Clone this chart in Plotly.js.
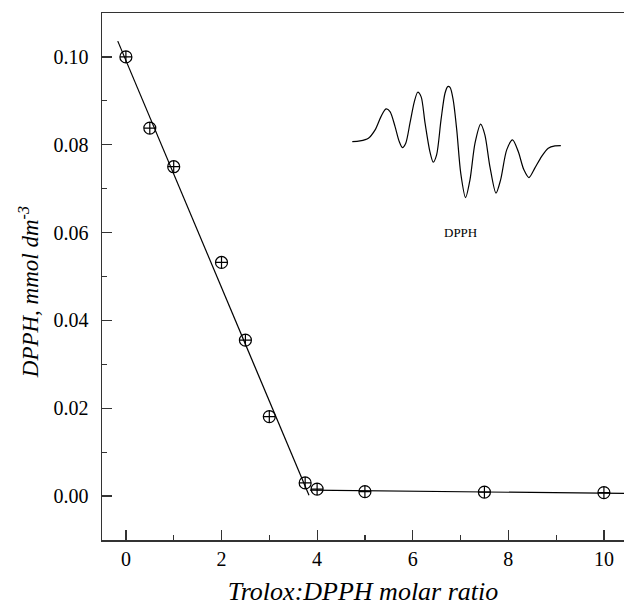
<!DOCTYPE html>
<html>
<head>
<meta charset="utf-8">
<script src="https://cdn.plot.ly/plotly-3.0.1.min.js"></script>
<style>html,body{margin:0;padding:0;background:#fff;}#chart{width:624px;height:607px;}</style>
</head>
<body>
<div id="chart"></div>
<script>
// Measured data: DPPH concentration vs Trolox:DPPH molar ratio
var ratio = [0, 0.5, 1, 2, 2.5, 3, 3.75, 4, 5, 7.5, 10];
var dpph = [0.100, 0.0838, 0.075, 0.0532, 0.0355, 0.0181, 0.0030, 0.0016, 0.0010, 0.0009, 0.0008];

// Fitted straight lines
var fit1X = [-0.17, 3.83];
var fit1Y = [0.1036, 0.0002];
var fit2X = [3.85, 10.45];
var fit2Y = [0.00135, 0.0006];

// Inset ESR spectrum (arbitrary units)
var esrField = [0.1, 3.8, 7.8, 11.0, 13.8, 16.2, 18.1, 20.5, 22.5, 24.0, 25.6, 27.6, 29.7, 31.3, 32.9, 34.8, 37.1, 38.7, 40.3, 42.4, 44.3, 45.6, 46.7, 48.2, 49.9, 51.8, 54.1, 56.2, 58.6, 61.3, 63.3, 65.7, 68.6, 70.8, 73.7, 76.5, 79.2, 81.9, 84.3, 87.1, 90.3, 93.5, 96.7, 99.5];
var esrSignal = [0.3, 1, 3.7, 12, 25.3, 33, 30.3, 15.3, 0.3, -5.7, -1.3, 18.7, 40.3, 49.7, 45.3, 18.7, -9.7, -20.3, -13, 22, 48.7, 55.3, 54.5, 42, 12, -31.3, -55.7, -38, -1.3, 17.7, 7, -24.7, -51.3, -38, -8, 2, -9.7, -28, -35.7, -26.3, -14.7, -6.3, -4, -3.7];

var serif = "Liberation Serif, Times New Roman, serif";

var traces = [
  {x: fit1X, y: fit1Y, mode: 'lines', line: {color: '#000', width: 1.2}, hoverinfo: 'skip'},
  {x: fit2X, y: fit2Y, mode: 'lines', line: {color: '#000', width: 1.2}, hoverinfo: 'skip'},
  {x: ratio, y: dpph, mode: 'markers',
   marker: {symbol: 'circle-cross-open', size: 12, color: '#000', line: {color: '#000', width: 1.2}}},
  {x: esrField, y: esrSignal, xaxis: 'x2', yaxis: 'y2', mode: 'lines',
   line: {color: '#000', width: 1.2, shape: 'spline', smoothing: 0.8}}
];

var layout = {
  width: 624, height: 607,
  margin: {l: 102, r: 0, t: 13, b: 67},
  paper_bgcolor: '#fff', plot_bgcolor: '#fff',
  showlegend: false,
  font: {family: serif, color: '#000', size: 20},
  xaxis: {
    range: [-0.5, 10.42], showgrid: false, zeroline: false,
    showline: true, linecolor: '#333', linewidth: 1.5, mirror: true,
    ticks: 'inside', ticklen: 10, tickwidth: 1.2, tickcolor: '#333',
    dtick: 2, tick0: 0,
    minor: {dtick: 1, tick0: 0, ticks: 'inside', ticklen: 5, tickwidth: 1.2, tickcolor: '#333', showgrid: false},
    tickfont: {family: serif, size: 20, color: '#000'},
    title: {text: '<i>Trolox:DPPH molar ratio</i>', font: {family: serif, size: 26, color: '#000'}, standoff: 13}
  },
  yaxis: {
    range: [-0.01, 0.11], showgrid: false, zeroline: false,
    showline: true, linecolor: '#333', linewidth: 1.5,
    ticks: 'inside', ticklen: 10, tickwidth: 1.2, tickcolor: '#333',
    dtick: 0.02, tick0: 0, tickformat: '.2f', ticklabelstandoff: 8,
    minor: {dtick: 0.01, tick0: 0, ticks: 'inside', ticklen: 5, tickwidth: 1.2, tickcolor: '#333', showgrid: false},
    tickfont: {family: serif, size: 20, color: '#000'}
  },
  xaxis2: {domain: [0.479, 0.881], range: [0, 100], anchor: 'y2', visible: false},
  yaxis2: {domain: [0.636, 0.873], range: [-63, 62], anchor: 'x2', visible: false},
  annotations: [
    {text: '<i>DPPH, mmol dm<sup>-3</sup></i>', xref: 'paper', yref: 'paper',
     x: -0.14, y: 0.47, xanchor: 'center', yanchor: 'middle', textangle: -90, showarrow: false,
     font: {family: serif, size: 23, color: '#000'}},
    {text: 'DPPH', xref: 'paper', yref: 'paper', x: 0.686, y: 0.584,
     xanchor: 'center', yanchor: 'middle', showarrow: false,
     font: {family: serif, size: 13, color: '#000'}}
  ]
};

Plotly.newPlot('chart', traces, layout, {displayModeBar: false, staticPlot: true});
</script>
</body>
</html>
